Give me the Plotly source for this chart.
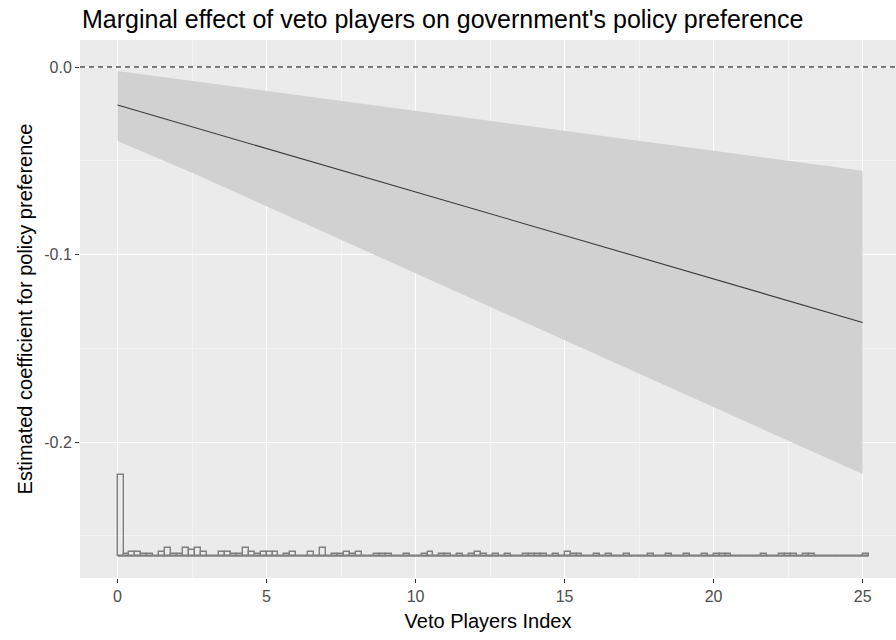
import numpy as np
import plotly.graph_objects as go

# Marginal effect estimate and 95% confidence bounds at selected index values
vp_index = [0, 2.5, 5, 7.5, 10, 12.5, 15, 17.5, 20, 22.5, 25]
effect = [-0.0203, -0.0319, -0.0435, -0.0551, -0.0667, -0.0783,
          -0.0899, -0.1015, -0.1130, -0.1246, -0.1362]
ci_upper = [-0.0021, -0.0074, -0.0127, -0.0180, -0.0234, -0.0287,
            -0.0340, -0.0393, -0.0447, -0.0500, -0.0553]
ci_lower = [-0.0395, -0.0564, -0.0743, -0.0922, -0.1100, -0.1279,
            -0.1458, -0.1637, -0.1815, -0.1993, -0.2171]

# Distribution of the veto players index (bins of width 0.2 starting at 0)
hist_counts = [
    40, 1, 2, 2, 1, 1, 0, 2, 4, 1, 1, 4, 3, 4, 2, 0, 0, 2, 2, 1,
    1, 4, 2, 1, 2, 2, 2, 0, 1, 2, 0, 0, 2, 0, 4, 0, 1, 1, 2, 1,
    2, 0, 0, 1, 1, 1, 0, 0, 1, 0, 0, 1, 2, 0, 1, 1, 0, 1, 0, 1,
    2, 1, 0, 1, 0, 1, 0, 0, 1, 1, 1, 1, 0, 1, 0, 2, 1, 1, 0, 0,
    1, 0, 1, 0, 0, 1, 0, 0, 0, 1, 0, 0, 1, 0, 0, 1, 0, 0, 1, 0,
    1, 1, 1, 0, 0, 0, 0, 0, 1, 0, 0, 1, 1, 1, 0, 1, 1, 0, 0, 0,
    0, 0, 0, 0, 0, 1,
]
bin_width = 0.2
hist_floor = -0.2608      # where the rug histogram sits on the y scale
count_height = 0.00108    # y units per observation

x_ticks = [0, 5, 10, 15, 20, 25]
y_ticks = [0.0, -0.1, -0.2]
y_tick_labels = ["0.0", "-0.1", "-0.2"]

bin_left = np.arange(len(hist_counts)) * bin_width
bin_mid = bin_left + bin_width / 2
bar_heights = np.array(hist_counts) * count_height

FONT = "Liberation Sans, Arial, sans-serif"

fig = go.Figure()

# confidence band
fig.add_trace(go.Scatter(
    x=vp_index + vp_index[::-1],
    y=ci_upper + ci_lower[::-1],
    fill="toself", fillcolor="#D1D1D1",
    line=dict(width=0), mode="lines", hoverinfo="skip", showlegend=False,
))

# point estimate
fig.add_trace(go.Scatter(
    x=vp_index, y=effect, mode="lines",
    line=dict(color="#3A3A3A", width=1.1), showlegend=False,
))

# histogram baseline
fig.add_trace(go.Scatter(
    x=[bin_left[0], bin_left[-1] + bin_width], y=[hist_floor, hist_floor],
    mode="lines", line=dict(color="#7F7F7F", width=1.4), showlegend=False,
))

# histogram bars
fig.add_trace(go.Bar(
    x=bin_mid, y=bar_heights, base=hist_floor, width=bin_width,
    marker=dict(color="rgba(0,0,0,0)", line=dict(color="#7F7F7F", width=1.4)),
    showlegend=False,
))

# reference line at zero
fig.add_shape(type="line", xref="paper", x0=0, x1=1, yref="y", y0=0, y1=0,
              line=dict(color="black", width=1.2, dash="5px,4px"))

fig.update_layout(
    width=896, height=640,
    margin=dict(l=80, r=0, t=40, b=62),
    paper_bgcolor="white", plot_bgcolor="#EBEBEB",
    font=dict(family=FONT, color="#1A1A1A"),
    title=dict(
        text="Marginal effect of veto players on government's policy preference",
        x=82 / 896, xref="container", xanchor="left",
        y=1 - 19 / 640, yref="container", yanchor="middle",
        font=dict(size=25, color="black", family=FONT),
    ),
    bargap=0,
)

fig.update_xaxes(
    range=[-1.26, 26.12], tickvals=x_ticks,
    ticks="outside", ticklen=4, tickcolor="#333333", tickwidth=1,
    tickfont=dict(size=16, color="#4D4D4D", family=FONT),
    showgrid=True, gridcolor="white", gridwidth=1.2,
    minor=dict(dtick=2.5, tick0=2.5, showgrid=True, gridcolor="#F4F4F4", gridwidth=0.6),
    zeroline=False, showline=False,
    title=dict(text="Veto Players Index", font=dict(size=20, color="black", family=FONT),
               standoff=9),
)
fig.update_yaxes(
    range=[-0.2725, 0.0144], tickvals=y_ticks, ticktext=y_tick_labels,
    ticks="outside", ticklen=4, tickcolor="#333333", tickwidth=1,
    tickfont=dict(size=16, color="#4D4D4D", family=FONT),
    showgrid=True, gridcolor="white", gridwidth=1.2,
    minor=dict(tickvals=[-0.05, -0.15, -0.25], showgrid=True, gridcolor="#F4F4F4", gridwidth=0.6),
    zeroline=False, showline=False,
    title=dict(text="Estimated coefficient for policy preference",
               font=dict(size=20, color="black", family=FONT), standoff=6),
)

fig.write_html("out.html")
